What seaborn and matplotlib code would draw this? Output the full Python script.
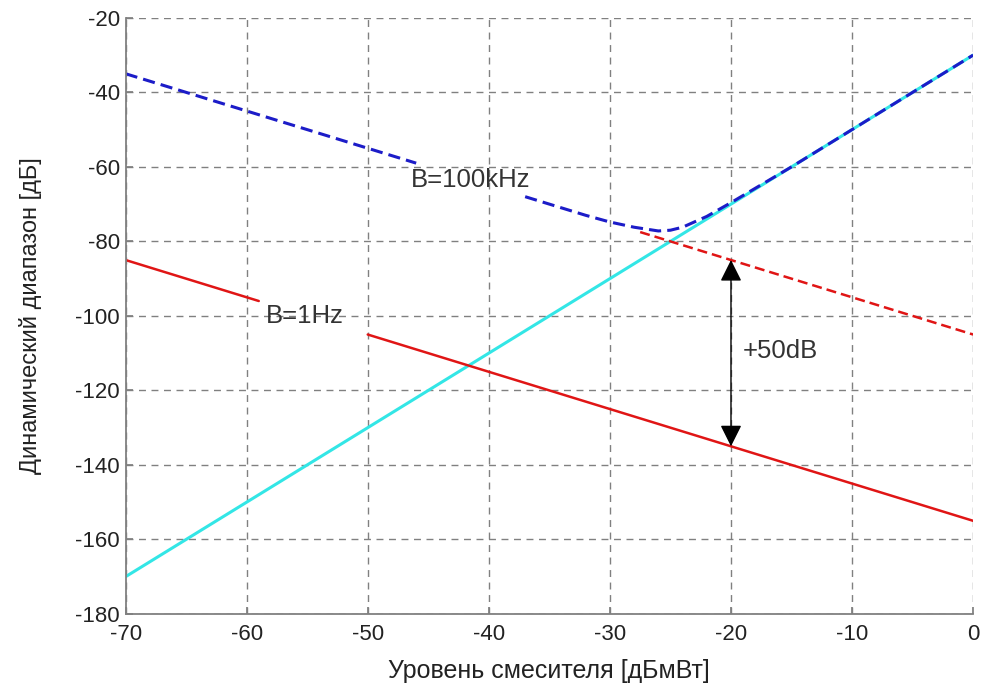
import matplotlib
matplotlib.use("Agg")
import matplotlib.pyplot as plt
import seaborn as sns
import pandas as pd

sns.set_theme(style="white")
plt.rcParams['font.family'] = ['Liberation Sans', 'DejaVu Sans']
plt.rcParams['axes.unicode_minus'] = False

# data
cyan_x = [-70, 0]
cyan_y = [-170, -30]

red1_x = [-70, -59]
red1_y = [-85, -96]
red2_x = [-50, 0]
red2_y = [-105, -155]

redd_x = [-27.5, -20, -10, 0]
redd_y = [-77.5, -85, -95, -105]

blue1_x = [-70, -60, -50, -46]
blue1_y = [-35, -45, -55, -59]
blue2_x = [-37, -35, -32, -30, -28, -26, -25, -24, -22, -20, -15, -10, -5, 0]
blue2_y = [-68, -70, -73, -74.8, -76.2, -77.2, -77.0, -76.2, -73.3, -69.6, -60, -50, -40, -30]

x_ticks = [-70, -60, -50, -40, -30, -20, -10, 0]
y_ticks = [-180, -160, -140, -120, -100, -80, -60, -40, -20]

fig = plt.figure(figsize=(9.81, 6.86), dpi=100)
ax = fig.add_axes([0.128, 0.105, 0.864, 0.869])

def draw(x, y, color, lw, dashes=None):
    df = pd.DataFrame({"x": x, "y": y})
    lines_before = len(ax.lines)
    sns.lineplot(data=df, x="x", y="y", ax=ax, color=color, linewidth=lw, sort=False)
    if dashes is not None:
        for ln in ax.lines[lines_before:]:
            ln.set_dashes(dashes)

draw(cyan_x, cyan_y, "#33e6e6", 2.2)
draw(red1_x, red1_y, "#e01515", 1.8)
draw(red2_x, red2_y, "#e01515", 1.8)
draw(redd_x, redd_y, "#e01515", 1.8, dashes=(4, 2))
draw(blue1_x, blue1_y, "#1c1cc8", 2.2, dashes=(4, 2))
draw(blue2_x, blue2_y, "#1c1cc8", 2.2, dashes=(4, 2))

ax.set_xlim(-70, 0)
ax.set_ylim(-180, -20)
ax.set_xticks(x_ticks)
ax.set_yticks(y_ticks)
ax.grid(True, color="#808080", linestyle=(0, (5, 4)), linewidth=1.0)
ax.set_axisbelow(True)

for s in ["top", "right"]:
    ax.spines[s].set_visible(False)
for s in ["left", "bottom"]:
    ax.spines[s].set_color("#808080")
    ax.spines[s].set_linewidth(1.3)

ax.tick_params(axis="both", direction="in", length=5, color="#808080",
               labelsize=16, labelcolor="#222222", left=True, bottom=True)
ax.tick_params(axis="x", pad=7)
ax.tick_params(axis="y", pad=4)

ax.set_xlabel("Уровень смесителя [дБмВт]", fontsize=18, color="#222222", labelpad=10)
ax.set_ylabel("Динамический диапазон [дБ]", fontsize=17, color="#222222", labelpad=24)

ax.text(-46.4, -63.5, "B=100kHz", fontsize=18.5, color="#333333", va="center", ha="left")
ax.text(-58.4, -100, "B=1Hz", fontsize=18.5, color="#333333", va="center", ha="left")
ax.text(-19.0, -109.5, "+50dB", fontsize=18.5, color="#333333", va="center", ha="left")

ax.annotate("", xy=(-20, -85), xytext=(-20, -135),
            arrowprops=dict(arrowstyle="<|-|>,head_length=0.6,head_width=0.3",
                            color="black", lw=1.0,
                            mutation_scale=22, shrinkA=0, shrinkB=0))

fig.savefig("out.png", dpi=100)
